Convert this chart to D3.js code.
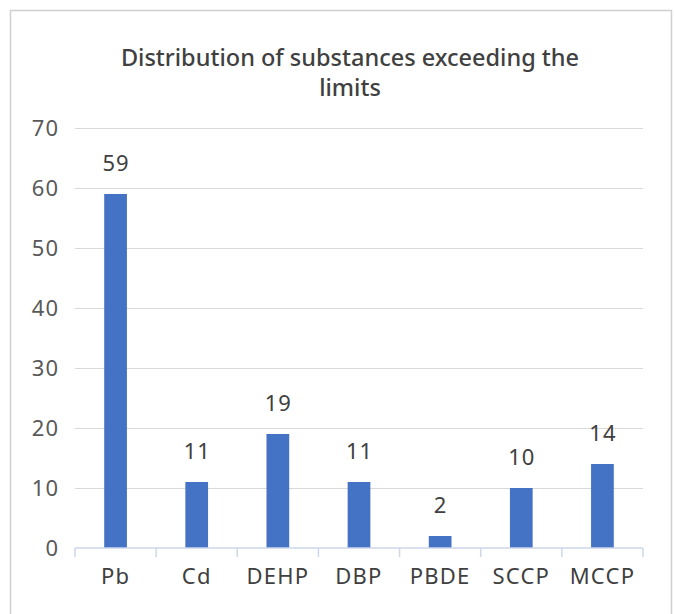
<!DOCTYPE html>
<html>
<head>
<meta charset="utf-8">
<script src="https://cdn.jsdelivr.net/npm/d3@7"></script>
<style>
  html, body { margin: 0; padding: 0; background: #ffffff; }
  svg { display: block; }
</style>
</head>
<body>
<svg id="chart" width="674" height="614"></svg>
<script>
const categories = ["Pb", "Cd", "DEHP", "DBP", "PBDE", "SCCP", "MCCP"];
const values = [59, 11, 19, 11, 2, 10, 14];
const yTicks = [0, 10, 20, 30, 40, 50, 60, 70];
const titleLines = ["Distribution of substances exceeding the", "limits"];

const svg = d3.select("#chart");
const W = 674, H = 614;
const margin = { left: 75, right: 31, top: 128, bottom: 66 };
const font = "'Noto Sans', 'Open Sans', sans-serif";

// chart frame
svg.append("rect")
  .attr("x", 10.5).attr("y", 10.5)
  .attr("width", 661).attr("height", 620)
  .attr("fill", "#ffffff")
  .attr("stroke", "#d0d0d0").attr("stroke-width", 1.5);

const x = d3.scaleBand().domain(categories)
  .range([margin.left, W - margin.right]).paddingInner(0.72).paddingOuter(0.36);
const xOuter = d3.scaleBand().domain(categories)
  .range([margin.left, W - margin.right]);
const y = d3.scaleLinear().domain([0, 70]).range([H - margin.bottom, margin.top]);

// title
svg.append("text")
  .attr("x", 350).attr("y", 66)
  .attr("text-anchor", "middle")
  .attr("font-family", font).attr("font-size", 23.5).attr("font-weight", 500)
  .attr("fill", "#404040")
  .selectAll("tspan").data(titleLines).join("tspan")
  .attr("x", 350).attr("dy", (d, i) => i === 0 ? 0 : 30)
  .text(d => d);

// gridlines
svg.append("g")
  .selectAll("line").data(yTicks.filter(t => t > 0)).join("line")
  .attr("x1", margin.left).attr("x2", W - margin.right)
  .attr("y1", d => Math.round(y(d)) + 0.5).attr("y2", d => Math.round(y(d)) + 0.5)
  .attr("stroke", "#d9d9d9").attr("stroke-width", 1.2);

// y axis labels
const yAxis = d3.axisLeft(y).tickValues(yTicks).tickSize(0).tickPadding(16);
const gy = svg.append("g").attr("transform", `translate(${margin.left},0)`).call(yAxis);
gy.select(".domain").remove();
gy.selectAll("text").attr("font-family", font).attr("font-size", 22)
  .attr("letter-spacing", 1).attr("fill", "#595959");

// bars
svg.append("g").selectAll("rect").data(values).join("rect")
  .attr("x", (d, i) => x(categories[i]))
  .attr("width", x.bandwidth())
  .attr("y", d => y(d))
  .attr("height", d => y(0) - y(d))
  .attr("fill", "#4472c4");

// data labels
svg.append("g").selectAll("text").data(values).join("text")
  .attr("x", (d, i) => x(categories[i]) + x.bandwidth() / 2 + 0.5)
  .attr("y", d => y(d) - 23)
  .attr("text-anchor", "middle")
  .attr("font-family", font).attr("font-size", 22).attr("letter-spacing", 1)
  .attr("fill", "#404040")
  .text(d => d);

// x axis
const xAxis = d3.axisBottom(xOuter).tickSize(0).tickPadding(20);
const gx = svg.append("g").attr("transform", `translate(0,${y(0)})`).call(xAxis);
gx.select(".domain").attr("stroke", "#cdd6ea").attr("stroke-width", 1.5)
  .attr("d", `M${margin.left},0H${W - margin.right}`);
gx.selectAll("text").attr("font-family", font).attr("font-size", 22)
  .attr("letter-spacing", 1.2).attr("fill", "#404040");
// category separators
const seps = categories.map(c => xOuter(c)).concat([W - margin.right]);
gx.append("g").selectAll("line").data(seps).join("line")
  .attr("x1", d => d).attr("x2", d => d)
  .attr("y1", 0).attr("y2", 9)
  .attr("stroke", "#cdd6ea").attr("stroke-width", 1.5);
</script>
</body>
</html>
